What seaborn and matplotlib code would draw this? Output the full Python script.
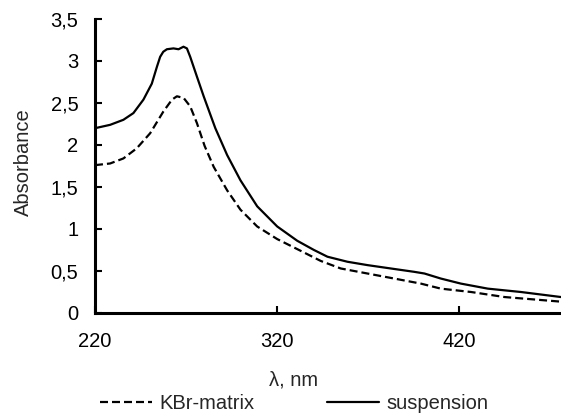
import matplotlib
matplotlib.use("Agg")
import matplotlib.pyplot as plt
import seaborn as sns
import pandas as pd
from matplotlib.ticker import FuncFormatter
from matplotlib.lines import Line2D

wl_susp = [220, 228.3, 235.6, 241.1, 246.6, 251.2, 254.0, 255.8, 257.5, 259.5, 263.1, 265.9, 268.6, 270.5,
           272.3, 275.9, 279.7, 283.4, 286.1, 292.6, 299.9, 309.1, 320.1, 331.1, 340.3, 347.7,
           358.7, 369.7, 382.5, 395.4, 401, 410, 421, 435.8, 454, 476]
abs_susp = [2.20, 2.24, 2.30, 2.38, 2.54, 2.73, 2.93, 3.05, 3.11, 3.14, 3.15, 3.14, 3.17, 3.15,
            3.05, 2.82, 2.58, 2.36, 2.20, 1.88, 1.58, 1.27, 1.03, 0.86, 0.75, 0.67,
            0.61, 0.57, 0.53, 0.49, 0.47, 0.41, 0.35, 0.29, 0.25, 0.19]

wl_kbr = [220, 228.3, 235.6, 242.9, 250.3, 257.6, 262.3, 265.0, 268.7, 272.3, 276.0, 280.2,
          285.2, 292.6, 299.9, 309.1, 320.1, 333, 344, 355, 369.7, 384.4, 399, 410, 426.6, 445, 476]
abs_kbr = [1.76, 1.78, 1.84, 1.96, 2.14, 2.40, 2.54, 2.58, 2.56, 2.46, 2.26, 1.99,
           1.74, 1.46, 1.23, 1.03, 0.88, 0.74, 0.62, 0.53, 0.47, 0.41, 0.35, 0.29, 0.25, 0.19, 0.135]

labels = ["KBr-matrix", "suspension"]
xticks = [220, 320, 420]
yticks = [0, 0.5, 1, 1.5, 2, 2.5, 3, 3.5]

sns.set_theme(style="ticks")
plt.rcParams['font.family'] = ['Liberation Sans', 'DejaVu Sans']
FS = 14.5
DASH = (0, (3.6, 1.8))
LW = 1.6

fig = plt.figure(figsize=(5.61, 4.16), dpi=100)
ax = fig.add_axes([95/561, 1 - 313/416, 1 - 95/561, (313 - 19)/416])

df_k = pd.DataFrame({"wl": wl_kbr, "A": abs_kbr})
df_s = pd.DataFrame({"wl": wl_susp, "A": abs_susp})
sns.lineplot(data=df_k, x="wl", y="A", ax=ax, color="black", lw=LW,
             linestyle=DASH, estimator=None, sort=False)
sns.lineplot(data=df_s, x="wl", y="A", ax=ax, color="black", lw=LW,
             estimator=None, sort=False)
for ln in ax.lines:
    ln.set_solid_joinstyle("round")
    ln.set_dash_joinstyle("round")

ax.set_xlim(220, 476)
ax.set_ylim(0, 3.5)
ax.set_xticks(xticks)
ax.set_yticks(yticks)
fmt = FuncFormatter(lambda v, p: ("%g" % v).replace(".", ","))
ax.yaxis.set_major_formatter(fmt)
ax.xaxis.set_major_formatter(fmt)
for s in ["top", "right"]:
    ax.spines[s].set_visible(False)
for s in ["left", "bottom"]:
    ax.spines[s].set_linewidth(2.2)
    ax.spines[s].set_color("black")
ax.tick_params(axis="both", direction="in", length=5, width=1.5, colors="black",
               labelsize=FS, labelcolor="black")
ax.tick_params(axis="y", pad=12)
ax.tick_params(axis="x", pad=14)
ax.set_xlabel("λ, nm", fontsize=FS)
ax.set_ylabel("Absorbance", fontsize=FS)
ax.xaxis.set_label_coords((294 - 95) / 466, (313 - 370) / 294)
ax.xaxis.label.set_va("top")
ax.yaxis.set_label_coords((33 - 95) / 466, 0.5 + (166 - 162) / 294)

handles = [Line2D([], [], color="black", lw=LW, linestyle=DASH),
           Line2D([], [], color="black", lw=LW)]
fig.legend(handles, labels, loc="center", bbox_to_anchor=(0.524, 0.03), ncol=2,
           frameon=False, fontsize=FS, handlelength=2.6, handletextpad=0.35,
           columnspacing=3.6, borderaxespad=0, borderpad=0)
fig.savefig("out.png", dpi=100)
